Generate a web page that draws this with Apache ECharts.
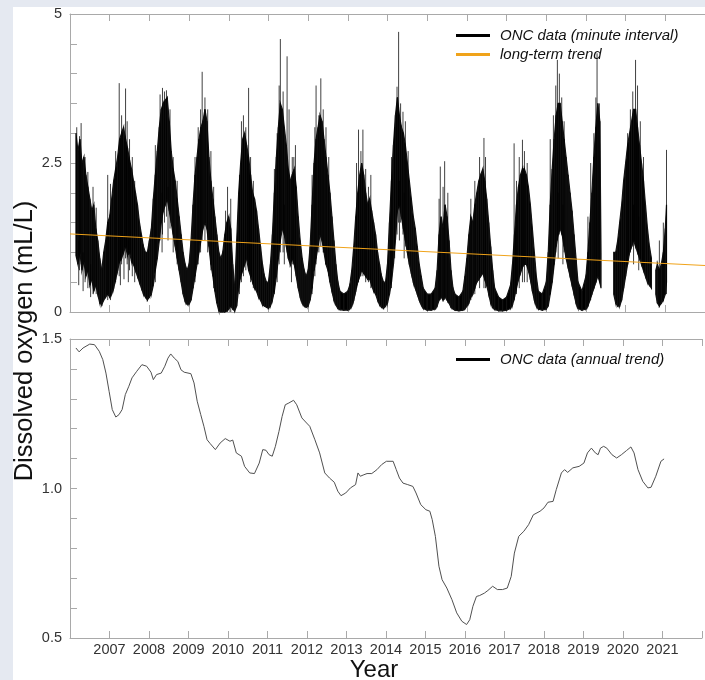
<!DOCTYPE html>
<html>
<head>
<meta charset="utf-8">
<script src="https://cdn.jsdelivr.net/npm/echarts@6/dist/echarts.min.js"></script>
<style>
html,body{margin:0;padding:0;background:#e5e9f1;}
#chart{width:705px;height:680px;}
</style>
</head>
<body>
<div id="chart"></div>
<script>
// ---------- data ----------
const yearLabels = ['2007','2008','2009','2010','2011','2012','2013','2014','2015','2016','2017','2018','2019','2020','2021'];
const topTickLabels = ['0','2.5','5'];
const bottomTickLabels = ['0.5','1.0','1.5'];

// minute-interval data: envelope of the dense band (year, low, high); null = gap
const bandYears = [2006.15,2006.2,2006.25,2006.3,2006.35,2006.4,2006.45,2006.5,2006.55,2006.6,2006.65,2006.7,2006.75,2006.8,2006.85,2006.9,2006.95,
2007.0,2007.05,2007.1,2007.15,2007.2,2007.25,2007.3,2007.35,2007.4,2007.45,2007.5,2007.55,2007.6,2007.65,2007.7,2007.75,2007.8,2007.85,2007.9,2007.95,
2008.0,2008.05,2008.1,2008.15,2008.2,2008.25,2008.3,2008.35,2008.4,2008.45,2008.5,2008.55,2008.6,2008.65,2008.7,2008.75,2008.8,2008.85,2008.9,2008.95,
2009.0,2009.05,2009.1,2009.15,2009.2,2009.25,2009.3,2009.35,2009.4,2009.45,2009.5,2009.55,2009.6,2009.65,2009.7,2009.75,2009.8,2009.85,2009.9,2009.95,
2010.0,2010.05,2010.1,2010.15,2010.2,2010.25,2010.3,2010.35,2010.4,2010.45,2010.5,2010.55,2010.6,2010.65,2010.7,2010.75,2010.8,2010.85,2010.9,2010.95,
2011.0,2011.05,2011.1,2011.15,2011.2,2011.25,2011.3,2011.35,2011.4,2011.45,2011.5,2011.55,2011.6,2011.65,2011.7,2011.75,2011.8,2011.85,2011.9,2011.95,
2012.0,2012.05,2012.1,2012.15,2012.2,2012.25,2012.3,2012.35,2012.4,2012.45,2012.5,2012.55,2012.6,2012.65,2012.7,2012.75,2012.8,2012.9,
2013.0,2013.05,2013.1,2013.15,2013.2,2013.25,2013.3,2013.35,2013.4,2013.45,2013.5,2013.55,2013.6,2013.65,2013.7,2013.75,2013.8,2013.85,2013.9,2013.95,
2014.0,2014.05,2014.1,2014.15,2014.2,2014.25,2014.3,2014.35,2014.4,2014.45,2014.5,2014.55,2014.6,2014.65,2014.7,2014.75,2014.8,2014.85,2014.9,
2015.0,2015.1,2015.2,2015.25,2015.3,2015.35,2015.4,2015.45,2015.5,2015.55,2015.6,2015.65,2015.7,2015.8,2015.9,2015.95,
2016.0,2016.05,2016.1,2016.15,2016.2,2016.25,2016.3,2016.35,2016.4,2016.45,2016.5,2016.55,2016.6,2016.65,2016.7,2016.8,2016.9,
2017.0,2017.1,2017.15,2017.2,2017.25,2017.3,2017.35,2017.4,2017.45,2017.5,2017.55,2017.6,2017.65,2017.7,2017.75,2017.8,2017.9,
2018.0,2018.05,2018.1,2018.15,2018.2,2018.25,2018.3,2018.35,2018.4,2018.45,2018.5,2018.55,2018.6,2018.65,2018.7,2018.75,2018.8,2018.9,
2019.0,2019.05,2019.1,2019.15,2019.2,2019.25,2019.3,2019.35,2019.38,2019.5,2019.7,2019.75,2019.8,2019.85,2019.9,2019.95,
2020.0,2020.05,2020.1,2020.15,2020.2,2020.25,2020.3,2020.35,2020.4,2020.45,2020.5,2020.55,2020.6,2020.65,2020.7,2020.76,2020.8,2020.85,2020.9,2020.95,
2021.0,2021.03];
const bandLow = [0.95,0.8,1.0,0.7,0.85,0.6,0.7,0.45,0.55,0.35,0.45,0.3,0.15,0.12,0.2,0.25,0.3,
0.25,0.3,0.4,0.55,0.7,0.85,0.9,1.0,1.1,0.95,1.0,0.85,0.8,0.7,0.6,0.5,0.4,0.3,0.25,0.2,
0.25,0.3,0.45,0.7,0.9,1.2,1.5,1.7,1.8,1.9,1.7,1.5,1.3,1.1,0.9,0.7,0.5,0.3,0.18,0.13,
0.13,0.2,0.4,0.6,0.8,1.0,1.2,1.4,1.5,1.4,1.1,0.8,0.6,0.35,0.15,0.02,0.0,0.0,0.0,0.02,
0.05,0.1,0.05,0.02,0.1,0.4,0.6,0.7,0.8,0.9,0.7,0.6,0.5,0.4,0.35,0.25,0.2,0.12,0.1,0.08,
0.06,0.1,0.2,0.35,0.6,0.9,1.2,1.4,1.3,1.1,0.9,0.8,0.9,0.8,0.6,0.4,0.25,0.15,0.1,0.08,
0.1,0.2,0.4,0.7,0.9,1.1,1.3,1.2,1.0,0.8,0.7,0.5,0.35,0.2,0.12,0.06,0.04,0.03,
0.03,0.05,0.1,0.2,0.35,0.5,0.6,0.7,0.65,0.6,0.55,0.55,0.45,0.35,0.3,0.2,0.12,0.08,0.06,0.1,
0.15,0.3,0.5,0.8,1.2,1.7,1.8,1.6,1.4,1.2,1.0,0.8,0.65,0.5,0.4,0.3,0.2,0.12,0.06,
0.03,0.03,0.05,0.1,0.2,0.25,0.2,0.25,0.2,0.15,0.08,0.05,0.03,0.02,0.03,0.05,
0.1,0.15,0.25,0.3,0.4,0.5,0.55,0.6,0.65,0.55,0.45,0.3,0.15,0.08,0.04,0.02,0.02,
0.03,0.06,0.12,0.25,0.4,0.55,0.65,0.75,0.8,0.8,0.7,0.55,0.35,0.2,0.1,0.05,0.03,
0.05,0.1,0.3,0.5,0.8,1.1,1.3,1.4,1.3,1.1,0.9,0.75,0.6,0.45,0.3,0.15,0.06,0.03,
0.05,0.1,0.2,0.3,0.4,0.5,0.6,0.5,0.4,null,0.3,0.15,0.1,0.1,0.2,0.4,
0.6,0.8,1.0,1.1,1.2,1.1,1.0,0.9,0.8,0.7,0.6,0.5,0.45,0.4,null,0.3,0.15,0.1,0.15,0.2,
0.3,0.5];
const bandHigh = [3.0,2.7,2.9,2.5,2.6,2.3,2.1,1.9,1.7,1.8,1.4,1.2,0.9,0.7,1.0,1.2,1.5,
1.6,1.9,2.2,2.4,2.6,2.9,3.0,3.1,2.9,2.75,2.55,2.4,2.2,2.0,1.8,1.5,1.3,1.1,1.0,1.0,
1.2,1.4,1.9,2.3,2.7,3.1,3.4,3.5,3.55,3.6,3.2,2.7,2.4,2.2,1.9,1.6,1.3,1.0,0.8,0.7,
0.8,1.2,1.8,2.3,2.6,2.9,3.1,3.2,3.4,3.2,2.6,2.2,1.9,1.6,1.3,1.0,0.9,1.0,1.3,1.5,
1.6,1.4,0.8,0.4,1.2,2.0,2.5,2.9,3.0,2.8,2.6,2.3,2.0,1.9,1.7,1.4,1.1,0.8,0.6,0.5,
0.5,0.8,1.3,2.0,2.6,3.1,3.5,3.4,3.1,2.8,2.4,2.2,2.3,2.4,2.1,1.6,1.2,0.9,0.7,0.6,
0.7,1.1,1.8,2.5,2.9,3.1,3.3,3.2,2.9,2.6,2.3,2.0,1.6,1.2,0.8,0.5,0.35,0.3,
0.35,0.45,0.7,1.1,1.6,2.0,2.3,2.5,2.3,2.0,1.8,1.9,1.7,1.5,1.3,1.0,0.8,0.6,0.5,0.5,
0.8,1.5,2.2,2.8,3.3,3.6,3.3,3.1,3.0,2.8,2.5,2.2,1.9,1.6,1.4,1.1,0.8,0.6,0.4,
0.3,0.3,0.4,0.7,1.3,1.6,1.4,1.8,1.6,1.2,0.7,0.4,0.3,0.25,0.35,0.6,
0.9,1.3,1.6,1.5,1.8,2.0,2.2,2.3,2.4,2.2,1.9,1.5,1.1,0.7,0.4,0.25,0.2,
0.25,0.45,0.8,1.3,1.8,2.1,2.3,2.4,2.4,2.3,2.1,1.8,1.4,1.0,0.6,0.35,0.3,
0.5,1.0,1.8,2.4,2.9,3.3,3.5,3.5,3.2,2.9,2.6,2.3,2.0,1.7,1.3,0.9,0.5,0.35,
0.6,1.0,1.5,2.0,2.6,3.1,3.5,3.2,1.0,null,1.0,1.0,1.2,1.5,1.8,2.2,
2.5,2.8,3.0,3.2,3.4,3.4,3.1,2.8,2.5,2.2,1.8,1.4,1.1,0.9,null,0.7,0.8,0.7,0.8,1.0,
1.4,1.8];

// isolated spikes in the minute data (upward and downward excursions): [year, low, high]
const spikes = [
[2006.17,0.9,3.1],[2006.24,0.7,2.95],[2006.28,0.8,3.17],[2006.38,0.5,2.6],[2006.45,0.4,2.35],[2006.58,0.3,2.1],[2006.66,0.3,1.75],
[2006.22,0.45,1.2],[2006.33,0.35,1.0],[2006.52,0.25,0.8],
[2006.95,0.2,2.3],[2007.02,0.2,2.15],
[2007.15,0.5,2.7],[2007.24,0.6,3.84],[2007.3,0.8,3.3],[2007.4,0.9,3.75],[2007.44,0.8,3.2],[2007.5,0.7,2.9],[2007.57,0.6,2.6],[2007.63,0.5,2.2],
[2007.27,0.45,1.2],[2007.36,0.55,1.3],[2007.47,0.5,1.2],
[2008.15,0.5,2.8],[2008.27,1.2,3.65],[2008.33,1.3,3.76],[2008.38,1.5,3.7],[2008.43,1.6,3.72],[2008.52,1.4,3.4],[2008.6,1.0,2.6],[2008.7,0.8,2.2],
[2008.32,1.0,2.0],[2008.47,1.2,2.1],
[2009.15,0.5,2.6],[2009.23,0.8,3.1],[2009.29,1.0,3.4],[2009.33,1.2,4.03],[2009.4,1.2,3.6],[2009.47,1.0,3.4],[2009.55,0.7,2.7],[2009.62,0.4,2.1],
[2009.92,0,1.7],[2009.97,0,2.1],[2010.05,0,1.9],
[2010.27,0.3,2.3],[2010.32,0.5,3.2],[2010.37,0.6,3.3],[2010.43,0.7,3.1],[2010.5,0.7,3.76],[2010.55,0.5,2.6],[2010.62,0.4,2.2],
[2011.15,0.3,2.4],[2011.22,0.5,3.0],[2011.27,0.8,3.8],[2011.3,1.0,4.58],[2011.37,1.0,3.7],[2011.47,1.0,4.29],[2011.52,0.9,3.4],[2011.6,0.8,2.6],[2011.64,0.8,2.6],[2011.68,0.7,2.8],
[2011.4,0.8,1.8],[2011.58,0.5,1.2],
[2012.1,0.3,2.3],[2012.17,0.6,3.1],[2012.2,0.8,3.8],[2012.27,1.0,3.3],[2012.32,1.1,3.92],[2012.38,1.0,3.4],[2012.45,0.8,3.1],[2012.52,0.6,2.6],
[2013.22,0.4,2.5],[2013.27,0.5,3.06],[2013.33,0.6,2.7],[2013.38,0.6,3.06],[2013.45,0.5,2.4],[2013.52,0.5,2.1],[2013.58,0.4,2.3],
[2014.1,0.4,2.6],[2014.18,0.9,3.1],[2014.24,1.3,3.78],[2014.28,1.5,4.7],[2014.33,1.5,3.5],[2014.39,1.3,3.36],[2014.45,1.1,3.2],[2014.52,0.9,2.7],
[2014.3,1.2,2.2],[2014.42,0.9,2.0],
[2015.3,0.2,1.9],[2015.33,0.2,2.44],[2015.4,0.2,2.1],[2015.44,0.2,2.53],[2015.52,0.15,2.0],
[2016.1,0.2,1.9],[2016.2,0.3,2.2],[2016.32,0.4,2.6],[2016.43,0.4,2.92],[2016.47,0.4,2.6],
[2017.19,0.2,2.83],[2017.25,0.3,2.2],[2017.32,0.4,2.6],[2017.4,0.5,2.89],[2017.45,0.5,2.7],[2017.52,0.5,2.5],
[2018.1,0.3,2.9],[2018.18,0.7,3.3],[2018.24,1.0,3.8],[2018.28,1.2,4.23],[2018.33,1.3,4.0],[2018.39,1.3,3.6],[2018.45,1.0,3.2],
[2018.3,0.9,2.0],[2018.42,0.8,1.8],
[2019.05,0.1,1.6],[2019.12,0.2,2.5],[2019.2,0.4,3.0],[2019.25,0.5,3.6],[2019.28,0.6,4.34],[2019.34,0.5,3.5],
[2020.05,0.8,3.0],[2020.12,1.0,3.4],[2020.18,1.1,3.7],[2020.25,1.1,4.23],[2020.3,1.0,3.8],[2020.37,0.9,3.2],[2020.45,0.7,2.6],
[2020.2,0.8,1.8],[2020.33,0.7,1.6],
[2020.85,0.1,1.2],[2020.95,0.2,1.5],[2021.03,0.3,2.72]
];

// long-term trend (end points)
const longTrendYears = [2006, 2022];
const longTrendValues = [1.31, 0.78];

// annual trend (lower panel)
const annualYears = [2006.15,2006.23,2006.33,2006.5,2006.62,2006.74,2006.83,2006.91,2006.99,2007.07,2007.16,2007.24,2007.32,2007.4,2007.49,2007.57,2007.69,2007.82,2007.94,
2008.05,2008.11,2008.19,2008.31,2008.4,2008.48,2008.55,2008.64,2008.73,2008.81,2008.89,2009.06,2009.14,2009.22,2009.31,2009.39,2009.47,2009.55,2009.68,2009.8,2009.93,
2010.05,2010.12,2010.21,2010.34,2010.42,2010.55,2010.67,2010.72,2010.79,2010.88,2010.96,2011.04,2011.12,2011.2,2011.29,2011.37,2011.45,2011.54,2011.66,2011.74,2011.87,2011.99,
2012.07,2012.2,2012.32,2012.45,2012.57,2012.69,2012.78,2012.86,2012.98,2013.1,2013.23,2013.29,2013.35,2013.44,2013.52,2013.64,2013.77,2013.89,
2014.01,2014.18,2014.26,2014.34,2014.43,2014.55,2014.68,2014.76,2014.88,2015.01,2015.11,2015.17,2015.25,2015.34,2015.42,2015.54,2015.67,2015.79,2015.92,
2016.04,2016.12,2016.2,2016.29,2016.37,2016.49,2016.58,2016.7,2016.82,2016.95,2017.07,2017.17,2017.25,2017.36,2017.49,2017.61,2017.73,2017.9,
2018.0,2018.1,2018.23,2018.31,2018.44,2018.52,2018.6,2018.73,2018.89,2019.01,2019.1,2019.2,2019.3,2019.37,2019.43,2019.51,2019.59,2019.72,2019.84,2019.96,
2020.09,2020.2,2020.28,2020.38,2020.5,2020.63,2020.71,2020.83,2020.96,2021.04];
const annualValues = [1.47,1.457,1.47,1.483,1.481,1.459,1.431,1.386,1.325,1.264,1.239,1.247,1.264,1.314,1.342,1.37,1.392,1.414,1.409,
1.389,1.364,1.381,1.386,1.409,1.436,1.45,1.436,1.425,1.397,1.389,1.384,1.353,1.292,1.247,1.208,1.163,1.15,1.13,1.152,1.167,
1.158,1.162,1.119,1.108,1.074,1.052,1.05,1.05,1.085,1.13,1.128,1.113,1.108,1.141,1.191,1.241,1.28,1.286,1.295,1.28,1.236,1.219,
1.208,1.163,1.119,1.052,1.035,1.021,0.991,0.976,0.985,1.002,1.013,1.052,1.041,1.046,1.05,1.05,1.063,1.08,
1.091,1.091,1.063,1.035,1.018,1.013,1.007,0.985,0.946,0.929,0.924,0.896,0.84,0.74,0.695,0.667,0.628,0.584,0.556,
0.545,0.561,0.606,0.639,0.642,0.65,0.659,0.673,0.662,0.662,0.667,0.706,0.784,0.84,0.857,0.879,0.912,0.924,
0.935,0.954,0.957,0.996,1.052,1.063,1.054,1.069,1.074,1.085,1.119,1.135,1.119,1.113,1.135,1.141,1.135,1.113,1.102,1.113,
1.127,1.139,1.119,1.063,1.024,1.002,1.004,1.041,1.091,1.099];

// ---------- chart ----------
const FONT = '"Liberation Sans", Arial, Helvetica, sans-serif';
const AX = '#a9a9a9';
const chart = echarts.init(document.getElementById('chart'), null, {renderer: 'canvas'});

function xAx(gridIndex, position, showLabels) {
  return {
    type: 'value', gridIndex, position, min: 2006, max: 2022, interval: 1,
    axisLine: {show: true, onZero: false, lineStyle: {color: AX, width: 1}},
    axisTick: {show: true, inside: true, length: 7, lineStyle: {color: AX}},
    splitLine: {show: false},
    axisLabel: {
      show: showLabels, color: '#333', fontSize: 14.5, fontFamily: FONT, margin: 4,
      formatter: v => yearLabels.includes(String(Math.round(v))) ? String(Math.round(v)) : ''
    }
  };
}

const option = {
  animation: false,
  backgroundColor: 'transparent',
  graphic: [
    {type: 'rect', left: 13, top: 7, shape: {width: 700, height: 680}, style: {fill: '#ffffff'}, z: -10, silent: true},
    {type: 'text', x: 25, y: 341, rotation: Math.PI / 2,
     style: {text: 'Dissolved oxygen (mL/L)', fontSize: 25.5, fontFamily: FONT, fill: '#111', align: 'center', verticalAlign: 'middle'}},
    {type: 'text', x: 374, y: 670,
     style: {text: 'Year', fontSize: 24, fontFamily: FONT, fill: '#111', align: 'center', verticalAlign: 'middle'}}
  ],
  grid: [
    {left: 70, top: 14, height: 298, right: -11, containLabel: false},
    {left: 70, top: 339, height: 299, right: -11, containLabel: false}
  ],
  legend: [
    {
      orient: 'vertical', left: 451, top: 23, itemWidth: 34, itemHeight: 3, itemGap: 4,
      icon: 'rect',
      data: ['ONC data (minute interval)', 'long-term trend'],
      textStyle: {fontStyle: 'italic', fontSize: 15, fontFamily: FONT, color: '#111', padding: [0, 0, 0, 5]},
      selectedMode: false
    },
    {
      orient: 'vertical', left: 451, top: 347, itemWidth: 34, itemHeight: 3,
      icon: 'rect',
      data: ['ONC data (annual trend)'],
      textStyle: {fontStyle: 'italic', fontSize: 15, fontFamily: FONT, color: '#111', padding: [0, 0, 0, 5]},
      selectedMode: false
    }
  ],
  xAxis: [
    xAx(0, 'bottom', false),
    xAx(0, 'top', false),
    xAx(1, 'bottom', true),
    xAx(1, 'top', false)
  ],
  yAxis: [
    {
      type: 'value', gridIndex: 0, min: 0, max: 5, interval: 0.5,
      axisLine: {show: true, lineStyle: {color: AX}},
      axisTick: {show: true, inside: true, length: 7, lineStyle: {color: AX}},
      splitLine: {show: false},
      axisLabel: {
        color: '#333', fontSize: 14.5, fontFamily: FONT, margin: 8, showMinLabel: true, showMaxLabel: true,
        formatter: v => { const s = String(+(+v).toFixed(2)); return topTickLabels.includes(s) ? s : ''; }
      }
    },
    {
      type: 'value', gridIndex: 1, min: 0.5, max: 1.5, interval: 0.1,
      axisLine: {show: true, lineStyle: {color: AX}},
      axisTick: {show: true, inside: true, length: 7, lineStyle: {color: AX}},
      splitLine: {show: false},
      axisLabel: {
        color: '#333', fontSize: 14.5, fontFamily: FONT, margin: 8, showMinLabel: true, showMaxLabel: true,
        formatter: v => { const s = (+v).toFixed(1); return bottomTickLabels.includes(s) ? s : ''; }
      }
    }
  ],
  series: [
    {
      name: 'ONC data (minute interval)',
      type: 'custom', xAxisIndex: 0, yAxisIndex: 0, z: 2,
      itemStyle: {color: '#000'},
      encode: {x: 0, y: [1, 2]},
      data: bandYears.map((y, i) => [y, bandLow[i], bandHigh[i]]),
      renderItem: function (params, api) {
        const i = params.dataIndex;
        if (i >= bandYears.length - 1) return null;
        const l0 = bandLow[i], h0 = bandHigh[i], l1 = bandLow[i + 1], h1 = bandHigh[i + 1];
        if (l0 == null || l1 == null || h0 == null || h1 == null) return null;
        const a = api.coord([bandYears[i], l0]);
        const b = api.coord([bandYears[i], h0]);
        const c = api.coord([bandYears[i + 1], h1]);
        const d = api.coord([bandYears[i + 1], l1]);
        return {type: 'polygon', shape: {points: [a, b, c, d]}, style: {fill: '#000', stroke: '#111', lineWidth: 1.2}};
      }
    },
    {
      name: 'spikes',
      type: 'custom', xAxisIndex: 0, yAxisIndex: 0, z: 2,
      encode: {x: 0, y: [1, 2]},
      data: spikes,
      renderItem: function (params, api) {
        const p1 = api.coord([api.value(0), api.value(1)]);
        const p2 = api.coord([api.value(0), api.value(2)]);
        return {type: 'line', shape: {x1: p1[0], y1: p1[1], x2: p2[0], y2: p2[1]},
                style: {stroke: '#000', lineWidth: 1, opacity: 0.75}};
      }
    },
    {
      name: 'long-term trend',
      type: 'line', xAxisIndex: 0, yAxisIndex: 0, z: 4,
      showSymbol: false, symbol: 'none',
      itemStyle: {color: '#f0a31a'},
      lineStyle: {color: '#f0a31a', width: 1},
      data: longTrendYears.map((y, i) => [y, longTrendValues[i]])
    },
    {
      name: 'ONC data (annual trend)',
      type: 'line', xAxisIndex: 2, yAxisIndex: 1, z: 3,
      showSymbol: false, symbol: 'none',
      itemStyle: {color: '#000'},
      lineStyle: {color: '#505050', width: 1},
      data: annualYears.map((y, i) => [y, annualValues[i]])
    }
  ]
};
chart.setOption(option);
</script>
</body>
</html>
